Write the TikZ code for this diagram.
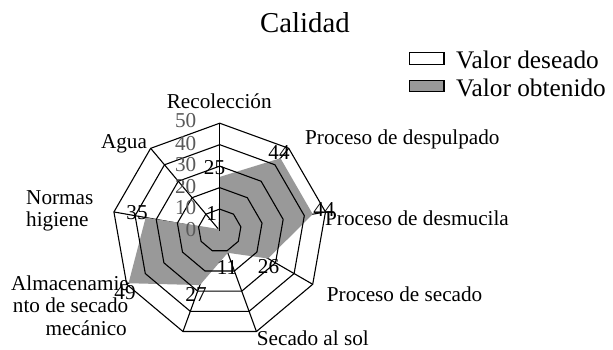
\documentclass[tikz,border=0pt]{standalone}
\usepackage{fontspec}
\setmainfont{Liberation Serif}
\definecolor{fillgray}{HTML}{999999}
\definecolor{tickgray}{HTML}{595959}
\begin{document}
\begin{tikzpicture}[x=1pt,y=1pt,
  lbl/.style={font=\fontsize{21.2}{24}\selectfont, inner sep=0pt},
  val/.style={lbl, anchor=center},
  tickl/.style={lbl, text=tickgray, anchor=east},
  gridline/.style={line width=1.1pt, line join=miter},
  legbox/.style={draw, line width=1.2pt, minimum width=34.7pt, minimum height=11.5pt, inner sep=0pt},
  legtxt/.style={font=\fontsize{25.3}{28}\selectfont, inner sep=0pt, anchor=base west}
]
\useasboundingbox (0,0) rectangle (613,349);
\coordinate (O) at (219.7,118.4);
\begin{scope}[shift={(219.7,118.4)}]
  % spokes (under the filled series)
  \foreach \a [count=\i] in {90,50,10,-30,-70,-110,-150,170,130}
    \coordinate (s\i) at (\a:107.4);
  \foreach \i in {1,...,9}
    \draw[gridline] (O) -- (s\i);
  % Valor obtenido
  \coordinate (v1) at (90:53.7);
  \coordinate (v2) at (50:94.5);
  \coordinate (v3) at (10:94.5);
  \coordinate (v4) at (-30:55.85);
  \coordinate (v5) at (-70:23.63);
  \coordinate (v6) at (-110:58.0);
  \coordinate (v7) at (-150:105.25);
  \coordinate (v8) at (170:75.18);
  \coordinate (v9) at (130:2.15);
  \fill[fillgray] (v1) -- (v2) -- (v3) -- (v4) -- (v5) -- (v6) -- (v7) -- (v8) -- (v9) -- cycle;
  % rings
  \foreach \r in {21.48,42.96,64.44,85.92,107.4}
    \draw[gridline] (90:\r) -- (50:\r) -- (10:\r) -- (-30:\r) -- (-70:\r) -- (-110:\r) -- (-150:\r) -- (170:\r) -- (130:\r) -- cycle;
  \draw[gridline] (O) -- (v1);
\end{scope}
% axis tick labels
\node[tickl] (t0) at (196.5,119.9) {0};
\node[tickl] (t10) at (196.5,141.4) {10};
\node[tickl] (t20) at (196.5,162.9) {20};
\node[tickl] (t30) at (196.5,184.3) {30};
\node[tickl] (t40) at (196.5,205.8) {40};
\node[tickl] (t50) at (196.5,228.0) {50};
% data labels
\node[val] (d1) at (214.5,181.5) {25};
\node[val] (d2) at (279,196.7) {44};
\node[val] (d3) at (324,139) {44};
\node[val] (d4) at (268.5,82.3) {26};
\node[val] (d5) at (227,81.5) {11};
\node[val] (d6) at (196,55) {27};
\node[val] (d7) at (125,56) {49};
\node[val] (d8) at (137,136.3) {35};
\node[val] (d9) at (211.7,135) {1};
% category labels
\node[lbl, anchor=base] (c1) at (219.2,240.7) {Recolección};
\node[lbl, anchor=base west] (c2) at (305,205) {Proceso de despulpado};
\node[lbl, anchor=base west] (c3) at (325,124) {Proceso de desmucila};
\node[lbl, anchor=base west] (c4) at (326.7,48) {Proceso de secado};
\node[lbl, anchor=base west] (c5) at (256.7,4) {Secado al sol};
\node[lbl, anchor=base east] (c7a) at (129,59) {Almacenamie};
\node[lbl, anchor=base east] (c7b) at (128.5,36.3) {nto de secado};
\node[lbl, anchor=base east] (c7c) at (127,14) {mecánico};
\node[lbl, anchor=base west] (c8a) at (26,145) {Normas};
\node[lbl, anchor=base west] (c8b) at (26,122.3) {higiene};
\node[lbl, anchor=base] (c9) at (124,201) {Agua};
% title
\node[font=\fontsize{28.8}{32}\selectfont, inner sep=0pt, anchor=base] (title) at (305,316.7) {Calidad};
% legend
\node[legbox, fill=white] (lb1) at (426.65,290.65) {};
\node[legbox, fill=fillgray] (lb2) at (426.65,263.15) {};
\node[legtxt] (lt1) at (456,280) {Valor deseado};
\node[legtxt] (lt2) at (456,252.3) {Valor obtenido};
\end{tikzpicture}
\end{document}
